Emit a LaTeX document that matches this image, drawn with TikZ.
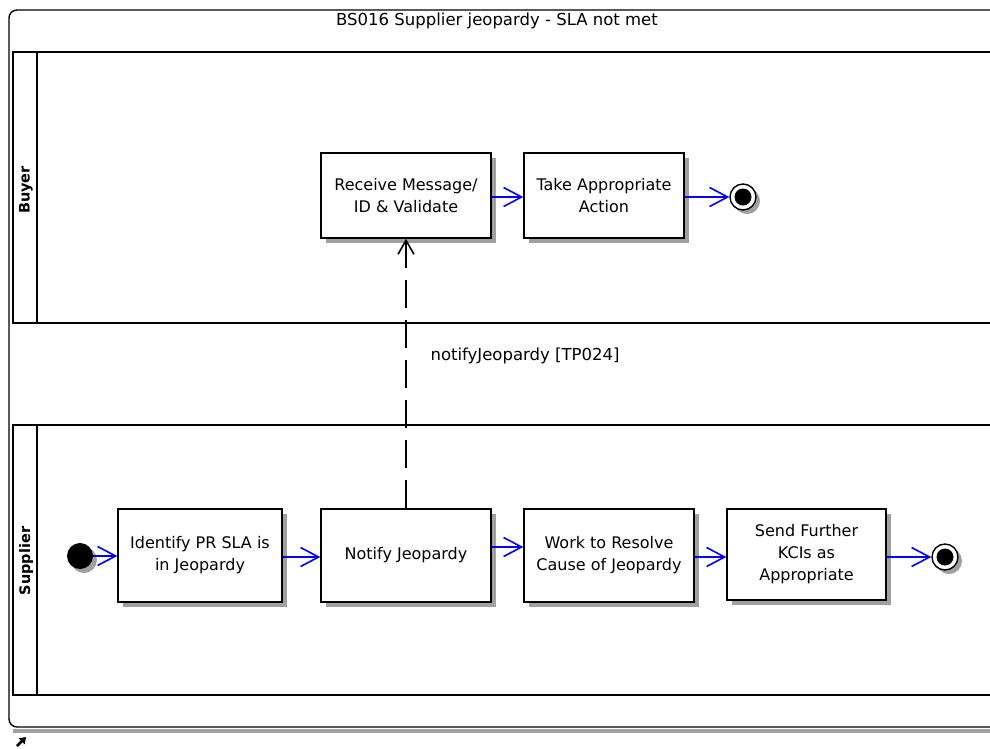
\documentclass[tikz,border=0pt]{standalone}
\usepackage{fontspec}
\setmainfont{DejaVu Sans}
\usetikzlibrary{arrows.meta,positioning}
\definecolor{shadowgray}{RGB}{160,160,160}
\definecolor{flowblue}{RGB}{0,0,255}
\tikzset{
  actbox/.style={draw=black, line width=1.4pt, fill=white, align=center,
    font=\fontsize{16}{22}\selectfont, inner sep=0pt,
    minimum width=170pt, minimum height=85pt},
  boxshadow/.style={fill=shadowgray, draw=none},
  flow/.style={draw=flowblue, line width=1.4pt, -{Straight Barb[length=18pt,width=19pt,line width=1.6pt]}},
  msgflow/.style={draw=black, line width=1.5pt, dash pattern=on 28pt off 12pt,
    -{Straight Barb[length=14pt,width=16pt,line width=1.6pt]}},
  lanebox/.style={draw=black, line width=1.4pt},
  lanelabel/.style={rotate=90, font=\bfseries\fontsize{14.5}{16}\selectfont, inner sep=0pt},
  endouter/.style={circle, draw=black, line width=1.4pt, fill=white, minimum size=26pt, inner sep=0pt},
  startdot/.style={circle, fill=black, minimum size=26pt, inner sep=0pt},
}
\begin{document}
\begin{tikzpicture}[x=1pt,y=-1pt]
\useasboundingbox (0,0) rectangle (990,748);
\clip (0,0) rectangle (990,748);
% outer frame
\fill[shadowgray] (13,729) rectangle (1000,733);
\draw[line width=1.4pt, rounded corners=8pt] (1000,10) -- (9,10) -- (9,727) -- (1000,727);
\node[font=\fontsize{16.5}{20}\selectfont, anchor=center] (title) at (497,21) {BS016 Supplier jeopardy - SLA not met};
% lanes
\draw[lanebox] (13,52) rectangle (1000,323);
\draw[lanebox] (37,52) -- (37,323);
\node[lanelabel] (buyerlbl) at (26,190) {Buyer};
\draw[lanebox] (13,425) rectangle (1000,695);
\draw[lanebox] (37,425) -- (37,695);
\node[lanelabel] (supplbl) at (26,561) {Supplier};
% shadows
\fill[boxshadow] (326,158) rectangle (496,243);
\fill[boxshadow] (529,158) rectangle (689,243);
\fill[boxshadow] (123,514) rectangle (287,607);
\fill[boxshadow] (326,514) rectangle (496,607);
\fill[boxshadow] (529,514) rectangle (699,607);
\fill[boxshadow] (732,514) rectangle (891,605);
\fill[shadowgray] (747,201) circle (13pt);
\fill[shadowgray] (949,561) circle (13pt);
\fill[shadowgray] (84,560) circle (13pt);
% activity boxes
\node[actbox] (recv) at (406,195.5) {Receive Message/\\ID \& Validate};
\node[actbox, minimum width=160pt] (take) at (604,195.5) {Take Appropriate\\Action};
\node[actbox, minimum width=164pt, minimum height=93pt] (ident) at (200,555.5) {Identify PR SLA is\\in Jeopardy};
\node[actbox, minimum height=93pt] (notify) at (406,555.5) {Notify Jeopardy};
\node[actbox, minimum height=93pt] (work) at (609,555.5) {Work to Resolve\\Cause of Jeopardy};
\node[actbox, minimum width=159pt, minimum height=91pt] (send) at (806.5,554.5) {Send Further\\KCIs as\\Appropriate};
% start / end
\node[startdot] (start) at (80,556) {};
\node[endouter] (endb) at (743,197) {};
\fill[black] (endb.center) circle (8.5pt);
\node[endouter] (ends) at (945,557) {};
\fill[black] (ends.center) circle (8.5pt);
% flows
\draw[flow] (recv.east |- 0,197) -- (take.west |- 0,197);
\draw[flow] (take.east |- 0,197) -- (endb.west);
\draw[flow] (start.east) -- (ident.west |- start.east);
\draw[flow] (ident.east |- 0,557) -- (notify.west |- 0,557);
\draw[flow] (notify.east |- 0,547) -- (work.west |- 0,547);
\draw[flow] (work.east |- 0,557) -- (send.west |- 0,557);
\draw[flow] (send.east |- 0,557) -- (ends.west);
% message flow
\draw[msgflow] (notify.north) -- (recv.south);
\node[anchor=west, font=\fontsize{16.5}{20}\selectfont] (msglbl) at (427,356) {notifyJeopardy [TP024]};
% corner icon
\draw[line width=2.5pt, -{Triangle[length=6pt,width=8pt]}] (17,746) -- (26,737);
\end{tikzpicture}
\end{document}
